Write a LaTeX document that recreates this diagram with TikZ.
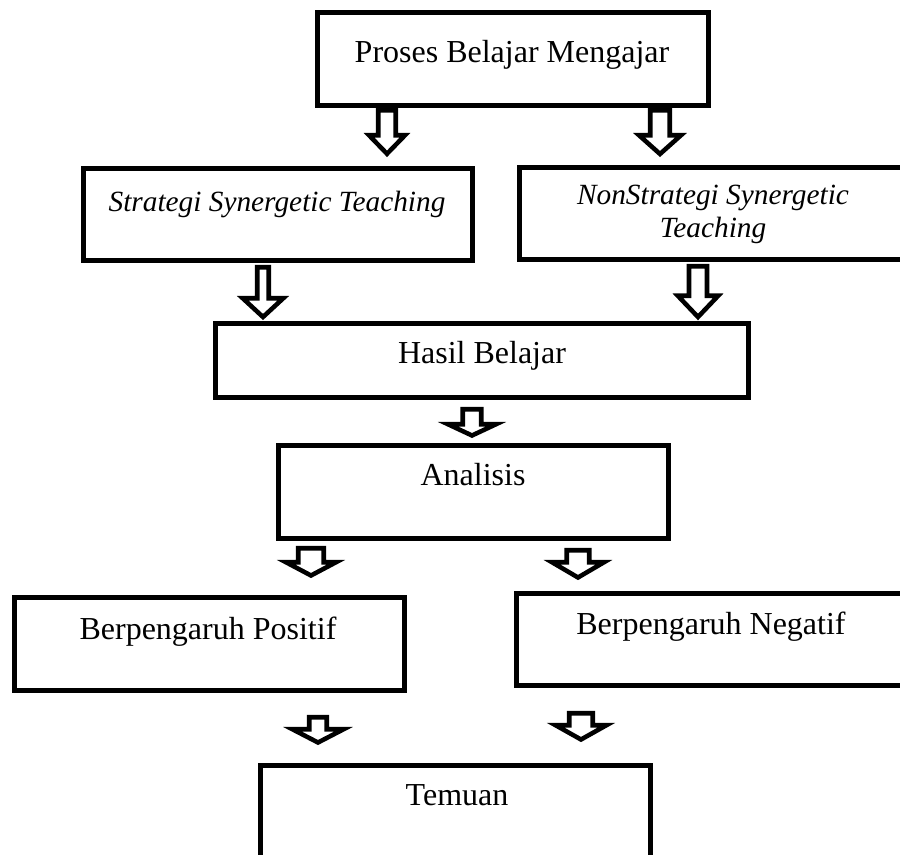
\documentclass[tikz,border=0pt]{standalone}
\usepackage{fontspec}
\setmainfont{Liberation Serif}
\usetikzlibrary{fit}
\tikzset{
  box/.style={draw=black, line width=3.75pt, inner sep=0pt},
  txt/.style={anchor=base, inner sep=0pt, font=\fontsize{24}{28}\selectfont},
  itxt/.style={anchor=base, inner sep=0pt, font=\fontsize{22}{26}\selectfont\itshape},
  barrow/.style={draw=black, fill=white, line width=3.4pt, miter limit=10},
}
% centre x, shaft half width, head half width, shaft top, head top, tip
\newcommand\blockarr[6]{%
  \draw[barrow] (#1-#2,#4) -- (#1+#2,#4) -- (#1+#2,#5) -- (#1+#3,#5) -- (#1,#6)
    -- (#1-#3,#5) -- (#1-#2,#5) -- cycle;}
\begin{document}
\begin{tikzpicture}[x=0.75pt,y=-0.75pt]
\useasboundingbox (0,0) rectangle (900,855);
\fill[white] (0,0) rectangle (900,855);
\clip (0,0) rectangle (900,855);

% boxes
\node[box, fit={(317.5,12.5) (708.5,105.5)}] (b1) {};
\node[box, fit={(83.5,168.5) (472.5,260.5)}] (b2) {};
\node[box, fit={(519.5,167.5) (906.5,259.5)}] (b3) {};
\node[box, fit={(215.5,323.5) (748.5,397.5)}] (b4) {};
\node[box, fit={(278.5,445.5) (668.5,538.5)}] (b5) {};
\node[box, fit={(14.5,597.5) (404.5,690.5)}] (b6) {};
\node[box, fit={(516.5,593.5) (907.5,685.5)}] (b7) {};
\node[box, fit={(260.5,765.5) (650.5,858.5)}] (b8) {};

% texts
\node[txt] (t1) at (512,63) {Proses Belajar Mengajar};
\node[itxt] (t2) at (277,212) {Strategi Synergetic Teaching};
\node[itxt] (t3a) at (713,205) {NonStrategi Synergetic};
\node[itxt] (t3b) at (713,238) {Teaching};
\node[txt] (t4) at (482,364) {Hasil Belajar};
\node[txt] (t5) at (473,486) {Analisis};
\node[txt] (t6) at (208,639) {Berpengaruh Positif};
\node[txt] (t7) at (711,634) {Berpengaruh Negatif};
\node[txt] (t8) at (457,805) {Temuan};

% block arrows
\blockarr{387}{8.75}{18}{110.25}{135.25}{153.8}
\blockarr{660}{9.75}{21}{110.25}{135.25}{154}
\blockarr{263}{5.75}{20.3}{267.25}{298.25}{317}
\blockarr{698}{9}{20.2}{266.25}{295.75}{317}
\blockarr{472}{9.25}{24}{409.25}{424.25}{435.5}
\blockarr{311}{12.75}{25}{548.25}{562.25}{575.5}
\blockarr{578}{11.25}{26}{550.25}{562.25}{577.5}
\blockarr{318}{8.75}{25.6}{717.25}{729.25}{742.5}
\blockarr{581}{11.75}{25.4}{713.25}{725.25}{739.5}
\end{tikzpicture}
\end{document}
